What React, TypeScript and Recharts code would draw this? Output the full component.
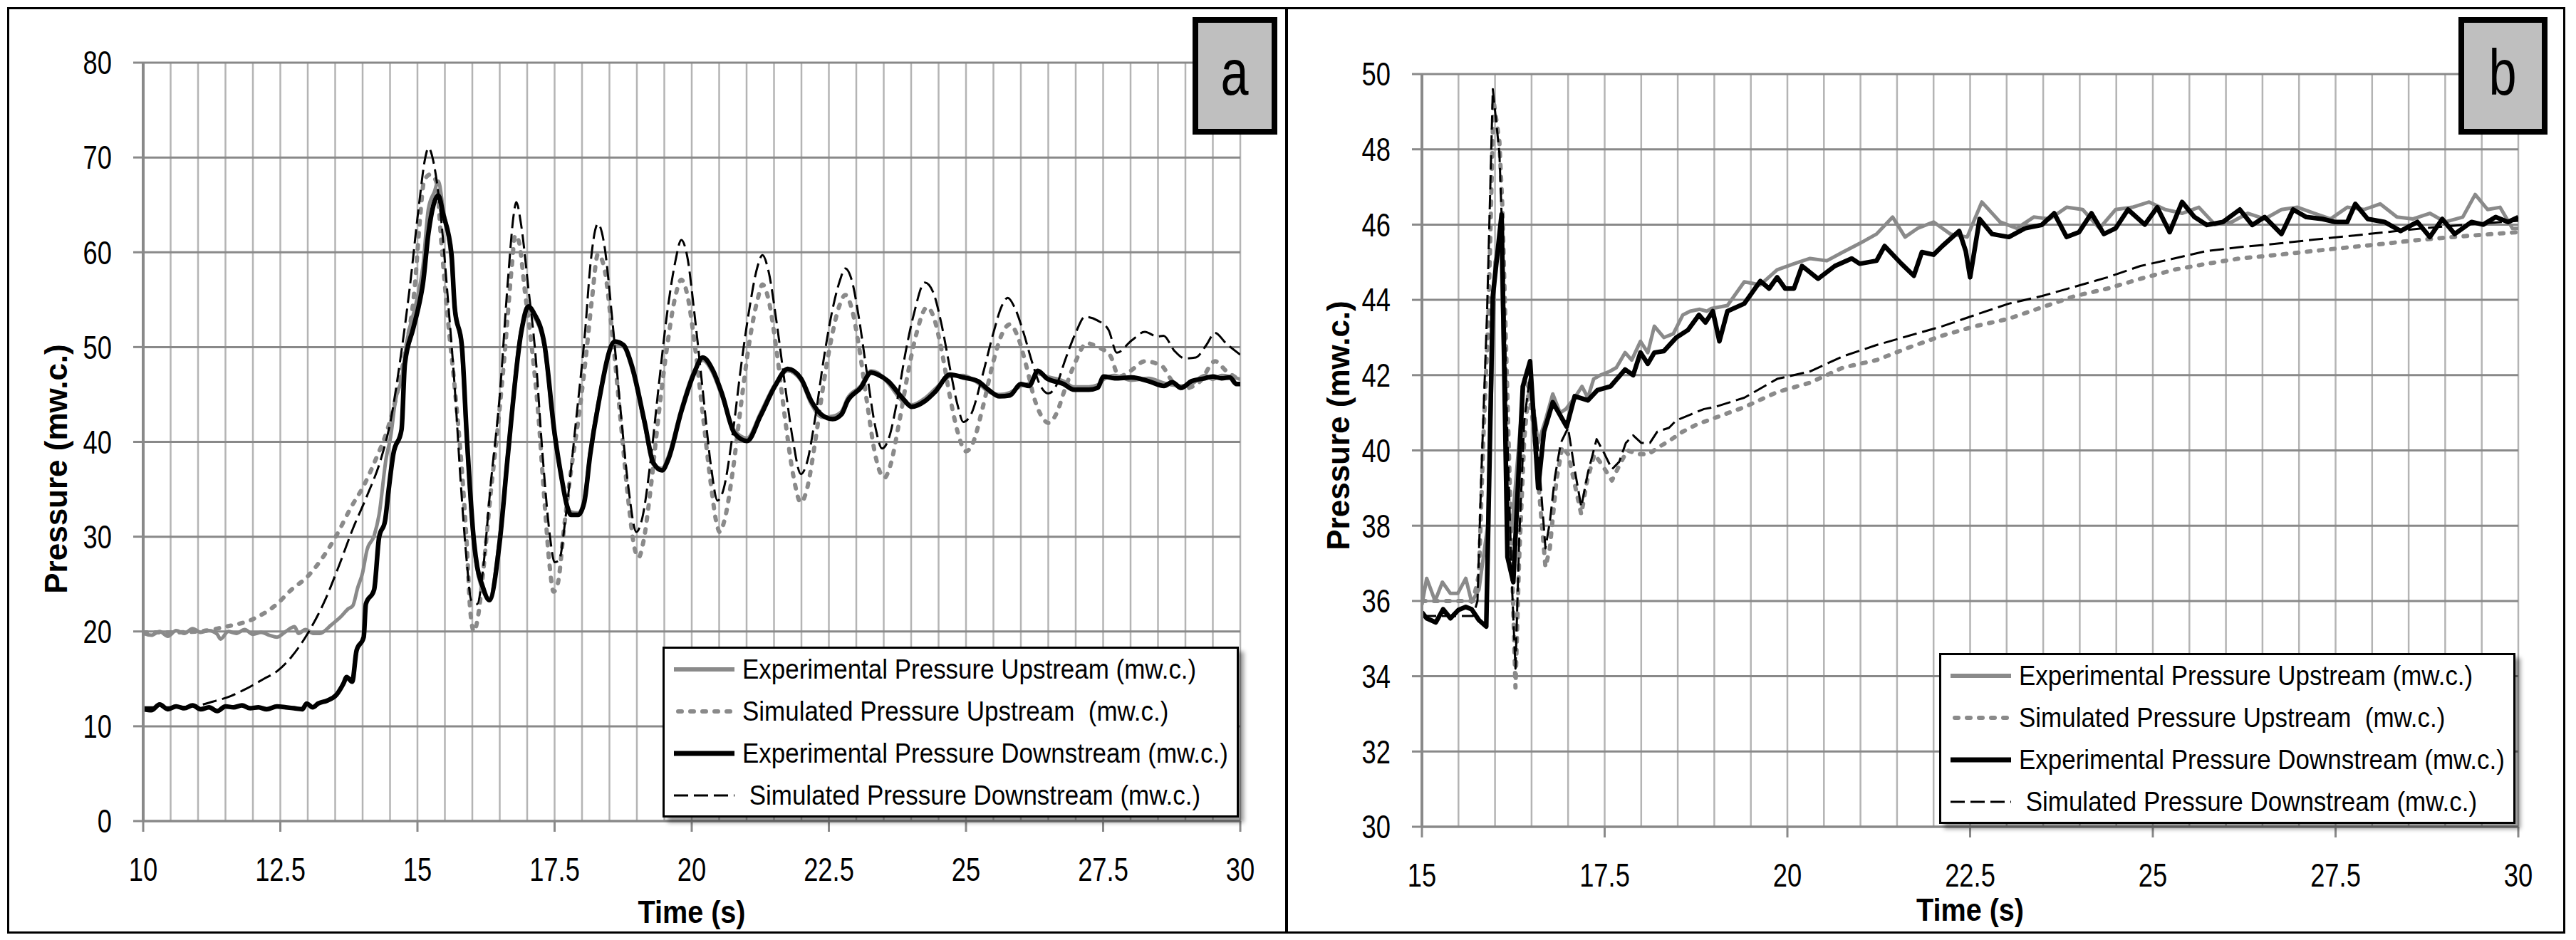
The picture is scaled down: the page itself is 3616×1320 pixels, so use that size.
import React from 'react';
import { LineChart, Line, XAxis, YAxis, CartesianGrid, Legend } from 'recharts';

type Pair = [number, number];
const toPts = (arr: Pair[]) => arr.map(([t, p]) => ({ t, p }));

// ---------- Panel a ----------
const A_X_TICKS = [10, 12.5, 15, 17.5, 20, 22.5, 25, 27.5, 30];
const A_GRID_TICKS = [10, 10.5, 11, 11.5, 12, 12.5, 13, 13.5, 14, 14.5, 15, 15.5, 16, 16.5, 17, 17.5, 18, 18.5, 19, 19.5, 20, 20.5, 21, 21.5, 22, 22.5, 23, 23.5, 24, 24.5, 25, 25.5, 26, 26.5, 27, 27.5, 28, 28.5, 29, 29.5, 30];
const A_Y_TICKS = [0, 10, 20, 30, 40, 50, 60, 70, 80];

const A_EXP_UP: Pair[] = [
  [10.0, 19.8], [10.15, 19.6], [10.3, 20.0], [10.45, 19.5], [10.6, 20.1], [10.75, 19.8], [10.9, 20.3], [11.05, 19.9],
  [11.2, 20.1], [11.35, 19.7], [11.41, 19.2], [11.55, 20.0], [11.7, 19.8], [11.85, 20.2], [12.0, 19.7], [12.15, 19.9],
  [12.3, 19.6], [12.44, 19.4], [12.6, 20.0], [12.76, 20.5], [12.83, 19.8], [12.96, 20.2], [13.1, 19.8], [13.22, 19.8],
  [13.43, 20.7], [13.61, 21.6], [13.74, 22.4], [13.82, 22.7], [13.91, 24.6], [14.0, 26.2], [14.08, 28.6], [14.21, 30.1],
  [14.3, 32.3], [14.43, 38.3], [14.51, 40.5], [14.6, 44.4], [14.71, 46.6], [14.82, 51.0], [14.97, 54.5], [15.1, 58.5],
  [15.2, 64.6], [15.31, 66.4], [15.38, 67.5], [15.47, 64.5], [15.62, 59.0], [15.68, 54.5], [15.81, 49.5], [15.9, 40.0],
  [16.03, 29.0], [16.09, 26.5], [16.18, 24.5], [16.31, 23.5], [16.5, 30.0], [16.65, 39.0], [16.89, 51.8], [17.02, 54.0],
  [17.12, 53.3], [17.32, 49.8], [17.5, 40.6], [17.63, 36.0], [17.72, 33.5], [17.8, 32.6], [17.93, 32.5], [18.04, 33.9],
  [18.15, 39.0], [18.29, 44.0], [18.6, 50.3], [18.76, 50.0], [18.91, 47.7], [19.14, 41.8], [19.3, 37.6], [19.46, 37.2],
  [19.57, 38.4], [19.81, 43.5], [20.04, 47.4], [20.2, 48.6], [20.39, 47.2], [20.55, 44.8], [20.78, 41.2], [21.01, 40.4],
  [21.25, 43.0], [21.52, 46.1], [21.75, 47.5], [21.99, 46.5], [22.18, 44.0], [22.38, 42.6], [22.57, 42.7], [22.73, 43.2],
  [22.84, 44.6], [23.08, 45.9], [23.27, 47.5], [23.39, 47.3], [23.58, 46.2], [23.86, 44.2], [24.01, 43.9], [24.25, 44.6],
  [24.44, 45.6], [24.71, 46.9], [24.95, 47.0], [25.22, 46.2], [25.41, 45.3], [25.61, 45.0], [25.8, 45.2], [26.0, 45.9],
  [26.15, 46.2], [26.31, 47.2], [26.47, 46.9], [26.78, 46.4], [26.97, 45.8], [27.24, 45.8], [27.4, 46.0], [27.51, 46.6],
  [27.71, 47.0], [28.02, 46.5], [28.33, 46.7], [28.61, 46.2], [28.76, 46.0], [28.92, 45.9], [29.11, 46.1], [29.35, 47.0],
  [29.5, 46.6], [29.66, 47.0], [29.81, 46.9], [30.0, 46.6],
];

const A_SIM_UP: Pair[] = [
  [10.0, 19.9], [10.5, 19.9], [11.0, 20.0], [11.5, 20.5], [12.0, 21.3], [12.44, 22.9], [12.7, 24.4], [12.98, 25.7],
  [13.26, 27.7], [13.52, 30.1], [13.78, 33.0], [14.04, 35.6], [14.25, 38.3], [14.43, 40.9], [14.6, 44.4], [14.77, 49.3],
  [14.95, 56.3], [15.05, 63.8], [15.12, 67.5], [15.23, 68.2], [15.34, 67.5], [15.44, 60.7], [15.55, 53.2], [15.68, 45.7],
  [15.81, 37.0], [15.9, 29.1], [15.96, 22.4], [16.03, 20.0], [16.11, 21.8], [16.2, 26.4], [16.33, 34.3], [16.46, 41.3],
  [16.59, 49.3], [16.72, 58.5], [16.78, 61.8], [16.85, 61.1], [16.96, 55.8], [17.09, 49.7], [17.2, 43.1], [17.32, 33.4],
  [17.41, 26.9], [17.48, 24.2], [17.56, 25.1], [17.67, 30.8], [17.8, 37.0], [17.93, 42.2], [18.06, 48.4], [18.18, 55.0],
  [18.29, 59.8], [18.4, 58.5], [18.55, 51.5], [18.7, 42.5], [18.85, 33.5], [18.95, 29.0], [19.03, 27.8], [19.12, 29.5],
  [19.25, 35.0], [19.4, 43.0], [19.55, 50.0], [19.7, 55.3], [19.81, 57.1], [19.92, 55.5], [20.05, 50.5], [20.2, 43.0],
  [20.35, 35.5], [20.45, 31.5], [20.51, 30.5], [20.6, 31.8], [20.75, 37.0], [20.9, 44.0], [21.05, 50.5], [21.2, 55.0],
  [21.29, 56.6], [21.4, 55.0], [21.55, 49.5], [21.7, 42.5], [21.85, 36.5], [21.99, 33.6], [22.1, 35.0], [22.25, 40.0],
  [22.4, 46.0], [22.55, 51.0], [22.7, 54.5], [22.8, 55.5], [22.92, 54.0], [23.05, 50.0], [23.2, 44.0], [23.35, 38.5],
  [23.51, 36.2], [23.62, 37.5], [23.78, 42.0], [23.95, 47.5], [24.1, 51.5], [24.29, 54.2], [24.42, 53.0], [24.56, 49.5],
  [24.7, 45.0], [24.85, 41.0], [25.0, 39.0], [25.12, 39.8], [25.3, 43.5], [25.5, 48.5], [25.65, 51.3], [25.8, 52.4],
  [25.95, 51.0], [26.1, 48.0], [26.25, 44.5], [26.4, 42.5], [26.5, 42.0], [26.65, 43.0], [26.8, 45.5], [27.0, 48.5],
  [27.2, 50.4], [27.4, 50.0], [27.63, 49.1], [27.79, 46.9], [28.0, 47.5], [28.26, 48.5], [28.57, 48.0], [28.76, 46.4],
  [28.96, 45.6], [29.27, 46.4], [29.54, 48.5], [29.74, 47.5], [30.0, 46.5],
];

const A_EXP_DOWN: Pair[] = [
  [10.0, 11.8], [10.15, 11.7], [10.3, 12.3], [10.45, 11.8], [10.6, 12.1], [10.75, 11.9], [10.9, 12.2], [11.05, 11.8],
  [11.2, 12.0], [11.35, 11.6], [11.5, 12.1], [11.65, 12.0], [11.8, 12.2], [11.95, 11.9], [12.1, 12.0], [12.25, 11.8],
  [12.44, 12.1], [12.6, 12.0], [12.75, 11.9], [12.9, 11.8], [12.98, 12.4], [13.09, 12.0], [13.19, 12.4], [13.35, 12.7],
  [13.52, 13.3], [13.65, 14.5], [13.71, 15.2], [13.81, 14.7], [13.89, 18.0], [14.02, 19.4], [14.06, 22.9], [14.21, 24.4],
  [14.3, 29.9], [14.41, 31.7], [14.47, 34.7], [14.56, 38.7], [14.71, 41.3], [14.77, 48.2], [14.92, 51.9], [15.03, 54.5],
  [15.1, 56.7], [15.2, 62.0], [15.38, 66.0], [15.47, 64.0], [15.62, 59.8], [15.68, 54.1], [15.81, 50.1], [15.9, 40.5],
  [16.03, 29.5], [16.09, 26.8], [16.18, 24.9], [16.31, 23.3], [16.5, 29.5], [16.65, 38.7], [16.89, 51.5], [17.02, 54.3],
  [17.12, 53.6], [17.32, 50.1], [17.5, 40.9], [17.63, 36.1], [17.72, 33.4], [17.8, 32.3], [17.93, 32.3], [18.04, 33.6],
  [18.15, 38.7], [18.29, 43.7], [18.6, 50.6], [18.76, 50.2], [18.91, 48.0], [19.14, 42.1], [19.3, 37.8], [19.46, 37.0],
  [19.57, 38.1], [19.81, 43.2], [20.04, 47.2], [20.2, 48.9], [20.39, 47.5], [20.55, 45.1], [20.78, 40.9], [21.01, 40.1],
  [21.25, 42.7], [21.52, 45.9], [21.75, 47.7], [21.99, 46.7], [22.18, 44.3], [22.38, 42.8], [22.57, 42.4], [22.73, 42.9],
  [22.84, 44.3], [23.08, 45.7], [23.27, 47.3], [23.39, 47.1], [23.58, 46.4], [23.86, 44.5], [24.01, 43.7], [24.25, 44.3],
  [24.44, 45.3], [24.71, 47.1], [24.95, 46.8], [25.22, 46.4], [25.41, 45.5], [25.61, 44.8], [25.8, 44.9], [26.0, 46.1],
  [26.15, 45.9], [26.31, 47.5], [26.47, 46.7], [26.78, 46.1], [26.97, 45.5], [27.24, 45.5], [27.4, 45.7], [27.51, 46.9],
  [27.71, 46.7], [28.02, 46.8], [28.33, 46.4], [28.61, 45.9], [28.76, 46.3], [28.92, 45.7], [29.11, 46.4], [29.35, 46.7],
  [29.5, 46.9], [29.66, 46.7], [29.81, 46.8], [29.93, 46.1], [30.0, 46.1],
];

const A_SIM_DOWN: Pair[] = [
  [10.0, 12.0], [10.5, 12.0], [11.0, 12.2], [11.27, 12.6], [11.6, 13.2], [11.86, 13.9], [12.2, 15.0], [12.44, 15.8],
  [12.7, 17.3], [13.0, 19.8], [13.3, 23.1], [13.56, 26.8], [13.82, 30.8], [14.08, 34.3], [14.34, 38.3], [14.51, 42.2],
  [14.68, 48.4], [14.86, 56.3], [15.03, 65.1], [15.14, 69.9], [15.2, 71.0], [15.31, 69.0], [15.42, 64.2], [15.55, 55.4],
  [15.68, 45.7], [15.79, 35.6], [15.9, 27.3], [15.98, 23.3], [16.09, 22.9], [16.2, 26.8], [16.33, 35.2], [16.5, 44.9],
  [16.65, 57.1], [16.76, 64.2], [16.8, 65.3], [16.89, 62.9], [17.02, 56.3], [17.15, 49.3], [17.28, 38.7], [17.41, 30.3],
  [17.5, 27.3], [17.58, 27.5], [17.71, 32.5], [17.89, 42.2], [18.06, 51.9], [18.15, 58.5], [18.29, 63.0], [18.4, 61.0],
  [18.55, 53.0], [18.7, 43.5], [18.85, 35.0], [18.99, 30.5], [19.1, 32.0], [19.25, 38.0], [19.4, 46.0], [19.55, 53.5],
  [19.7, 59.0], [19.81, 61.3], [19.92, 59.5], [20.05, 53.5], [20.2, 45.5], [20.35, 37.5], [20.47, 33.8], [20.58, 35.0],
  [20.75, 41.0], [20.9, 48.0], [21.05, 54.0], [21.2, 58.5], [21.29, 59.7], [21.4, 58.0], [21.55, 52.5], [21.7, 46.0],
  [21.85, 40.0], [21.99, 36.6], [22.1, 37.8], [22.25, 42.5], [22.4, 48.5], [22.55, 53.5], [22.7, 57.0], [22.8, 58.3],
  [22.92, 57.0], [23.05, 53.0], [23.2, 47.0], [23.35, 41.5], [23.47, 39.3], [23.6, 40.5], [23.75, 44.5], [23.9, 49.5],
  [24.05, 53.5], [24.25, 56.8], [24.4, 55.8], [24.55, 52.5], [24.7, 48.0], [24.85, 43.8], [24.95, 42.1], [25.1, 43.0],
  [25.3, 47.0], [25.5, 51.5], [25.65, 54.3], [25.76, 55.2], [25.9, 54.0], [26.05, 51.5], [26.2, 48.5], [26.35, 46.0],
  [26.5, 45.1], [26.65, 46.0], [26.8, 48.5], [27.0, 51.5], [27.17, 53.2], [27.4, 52.8], [27.6, 51.8], [27.75, 49.4],
  [28.02, 50.7], [28.26, 51.6], [28.49, 51.1], [28.6, 51.2], [28.8, 49.6], [28.99, 48.8], [29.19, 48.9], [29.38, 50.2],
  [29.54, 51.5], [29.74, 50.4], [30.0, 49.2],
];

// ---------- Panel b ----------
const B_X_TICKS = [15, 17.5, 20, 22.5, 25, 27.5, 30];
const B_GRID_TICKS = [15, 15.5, 16, 16.5, 17, 17.5, 18, 18.5, 19, 19.5, 20, 20.5, 21, 21.5, 22, 22.5, 23, 23.5, 24, 24.5, 25, 25.5, 26, 26.5, 27, 27.5, 28, 28.5, 29, 29.5, 30];
const B_Y_TICKS = [30, 32, 34, 36, 38, 40, 42, 44, 46, 48, 50];

const B_EXP_UP: Pair[] = [
  [15.0, 35.9], [15.065, 36.6], [15.18, 36.0], [15.28, 36.5], [15.39, 36.2], [15.49, 36.2], [15.6, 36.6], [15.68, 35.97],
  [15.78, 36.3], [15.9, 38.0], [16.0, 45.0], [16.08, 45.6], [16.17, 38.5], [16.23, 37.9], [16.4, 41.9], [16.5, 41.5],
  [16.59, 40.2], [16.69, 40.8], [16.79, 41.5], [16.89, 41.0], [16.97, 41.1], [17.09, 41.4], [17.19, 41.7], [17.27, 41.4],
  [17.35, 41.9], [17.44, 42.0], [17.57, 42.1], [17.66, 42.2], [17.78, 42.6], [17.87, 42.4], [17.99, 42.9], [18.09, 42.6],
  [18.18, 43.3], [18.31, 43.0], [18.44, 43.1], [18.57, 43.6], [18.67, 43.7], [18.8, 43.75], [18.9, 43.7], [18.96, 43.77],
  [19.18, 43.85], [19.41, 44.48], [19.63, 44.4], [19.86, 44.8], [20.09, 44.96], [20.31, 45.1], [20.54, 45.04], [20.76, 45.27],
  [20.99, 45.5], [21.22, 45.75], [21.44, 46.2], [21.61, 45.67], [21.78, 45.9], [22.0, 46.07], [22.23, 45.75], [22.46, 45.67],
  [22.66, 46.6], [22.91, 46.07], [23.14, 45.9], [23.37, 46.2], [23.59, 46.15], [23.82, 46.46], [24.04, 46.4], [24.27, 45.9],
  [24.49, 46.4], [24.72, 46.46], [24.95, 46.6], [25.17, 46.4], [25.4, 46.3], [25.63, 46.46], [25.85, 46.0], [26.08, 46.07],
  [26.3, 46.3], [26.53, 46.15], [26.76, 46.4], [26.98, 46.46], [27.21, 46.3], [27.43, 46.15], [27.66, 46.46], [27.89, 46.4],
  [28.11, 46.55], [28.34, 46.2], [28.56, 46.15], [28.79, 46.3], [29.0, 46.07], [29.24, 46.2], [29.41, 46.8], [29.58, 46.4],
  [29.75, 46.46], [29.92, 45.9], [30.0, 45.9],
];

const B_SIM_UP: Pair[] = [
  [15.0, 36.0], [15.4, 36.0], [15.7, 36.0], [15.78, 36.7], [15.84, 40.3], [15.91, 43.6], [15.98, 49.3], [16.06, 48.2],
  [16.1, 46.5], [16.17, 41.4], [16.23, 37.1], [16.28, 33.7], [16.33, 37.1], [16.4, 40.3], [16.46, 41.6], [16.53, 40.6],
  [16.59, 39.2], [16.66, 37.6], [16.69, 36.9], [16.75, 37.4], [16.84, 39.2], [16.92, 40.1], [17.0, 39.9], [17.08, 39.2],
  [17.18, 38.3], [17.26, 39.2], [17.36, 39.9], [17.47, 39.6], [17.6, 39.2], [17.7, 39.6], [17.81, 40.0], [17.96, 39.9],
  [18.1, 39.9], [18.25, 40.1], [18.38, 40.25], [18.57, 40.5], [18.77, 40.7], [18.96, 40.83], [19.41, 41.15], [19.86, 41.55],
  [20.31, 41.8], [20.76, 42.2], [21.22, 42.4], [21.67, 42.74], [22.12, 43.05], [22.57, 43.3], [23.03, 43.5], [23.48, 43.8],
  [23.93, 44.1], [24.38, 44.3], [24.83, 44.56], [25.29, 44.8], [25.74, 44.96], [26.19, 45.1], [26.73, 45.2], [27.2, 45.3],
  [27.7, 45.4], [28.2, 45.5], [28.68, 45.6], [29.3, 45.7], [30.0, 45.8],
];

const B_EXP_DOWN: Pair[] = [
  [15.0, 35.7], [15.065, 35.54], [15.19, 35.43], [15.29, 35.78], [15.39, 35.54], [15.5, 35.76], [15.6, 35.84], [15.68, 35.78],
  [15.78, 35.49], [15.88, 35.32], [15.97, 44.1], [16.09, 46.27], [16.17, 37.17], [16.25, 36.5], [16.38, 41.7], [16.48, 42.37],
  [16.59, 39.0], [16.67, 40.5], [16.79, 41.28], [16.98, 40.63], [17.09, 41.44], [17.27, 41.33], [17.4, 41.6], [17.58, 41.7],
  [17.78, 42.15], [17.89, 42.0], [17.99, 42.6], [18.09, 42.3], [18.18, 42.6], [18.31, 42.64], [18.48, 43.0], [18.64, 43.2],
  [18.79, 43.6], [18.88, 43.4], [18.98, 43.7], [19.07, 42.9], [19.18, 43.7], [19.41, 43.9], [19.63, 44.5], [19.75, 44.3],
  [19.86, 44.6], [19.97, 44.3], [20.09, 44.3], [20.2, 44.9], [20.42, 44.56], [20.65, 44.9], [20.88, 45.1], [20.99, 44.96],
  [21.22, 45.04], [21.33, 45.43], [21.56, 44.96], [21.73, 44.64], [21.84, 45.27], [22.0, 45.2], [22.12, 45.43], [22.35, 45.83],
  [22.44, 45.3], [22.5, 44.6], [22.63, 46.15], [22.8, 45.75], [23.03, 45.67], [23.25, 45.9], [23.48, 45.99], [23.65, 46.3],
  [23.82, 45.67], [23.99, 45.8], [24.16, 46.3], [24.33, 45.75], [24.49, 45.9], [24.66, 46.4], [24.89, 46.0], [25.06, 46.46],
  [25.23, 45.8], [25.4, 46.6], [25.57, 46.2], [25.74, 45.99], [25.96, 46.07], [26.19, 46.4], [26.36, 45.99], [26.53, 46.2],
  [26.76, 45.75], [26.92, 46.4], [27.1, 46.2], [27.32, 46.15], [27.49, 46.07], [27.66, 46.07], [27.77, 46.55], [27.94, 46.15],
  [28.17, 46.07], [28.39, 45.83], [28.62, 46.07], [28.79, 45.67], [28.96, 46.15], [29.13, 45.75], [29.36, 46.07], [29.52, 46.0],
  [29.69, 46.2], [29.86, 46.07], [30.0, 46.2],
];

const B_SIM_DOWN: Pair[] = [
  [15.0, 35.6], [15.7, 35.6], [15.76, 36.0], [15.81, 39.2], [15.89, 43.6], [15.97, 49.6], [16.06, 47.9], [16.12, 44.6],
  [16.17, 40.3], [16.23, 36.5], [16.28, 34.2], [16.33, 37.6], [16.4, 40.8], [16.48, 42.0], [16.56, 40.7], [16.62, 39.2],
  [16.69, 37.4], [16.75, 38.1], [16.82, 39.3], [16.9, 40.2], [17.0, 40.6], [17.08, 39.6], [17.18, 38.5], [17.27, 39.4],
  [17.39, 40.3], [17.5, 39.9], [17.6, 39.5], [17.7, 39.7], [17.79, 40.2], [17.89, 40.4], [18.0, 40.2], [18.12, 40.2],
  [18.22, 40.5], [18.38, 40.6], [18.48, 40.8], [18.67, 40.95], [18.86, 41.1], [19.0, 41.15], [19.41, 41.4], [19.86, 41.9],
  [20.31, 42.1], [20.76, 42.5], [21.22, 42.8], [21.67, 43.05], [22.12, 43.3], [22.57, 43.6], [23.03, 43.9], [23.48, 44.1],
  [23.93, 44.35], [24.38, 44.6], [24.83, 44.9], [25.29, 45.1], [25.74, 45.3], [26.19, 45.4], [26.73, 45.5], [27.2, 45.6],
  [27.7, 45.7], [28.2, 45.8], [28.68, 45.9], [29.3, 46.0], [30.0, 46.1],
];

const SERIES_NAMES = [
  'Experimental Pressure Upstream (mw.c.)',
  'Simulated Pressure Upstream  (mw.c.)',
  'Experimental Pressure Downstream (mw.c.)',
  ' Simulated Pressure Downstream (mw.c.)',
];

// ---------- styles ----------
const FONT = "'Liberation Sans', Arial, sans-serif";
const STYLES = [
  { stroke: '#8a8a8a', strokeWidth: 5, dash: undefined as string | undefined, cap: 'butt' as const },
  { stroke: '#8a8a8a', strokeWidth: 6, dash: '5 12', cap: 'round' as const },
  { stroke: '#000000', strokeWidth: 6.5, dash: undefined as string | undefined, cap: 'butt' as const },
  { stroke: '#000000', strokeWidth: 3, dash: '20 8', cap: 'butt' as const },
];

const LegendBox = () => (
  <div
    style={{
      width: '100%', height: '100%', boxSizing: 'border-box', background: '#fff',
      border: '3px solid #000', boxShadow: '7px 7px 6px rgba(0,0,0,0.4)', position: 'relative', overflow: 'visible',
    }}
  >
    {SERIES_NAMES.map((name, i) => {
      const s = STYLES[i];
      return (
        <div
          key={i}
          style={{ position: 'absolute', left: 13, top: 29 + i * 59 - 30, height: 60, display: 'flex', alignItems: 'center' }}
        >
          <svg width={90} height={20} style={{ display: 'block', flex: 'none' }}>
            <line
              x1={i === 1 ? 6 : 0} y1={10} x2={i === 1 ? 84 : 85} y2={10}
              stroke={s.stroke} strokeWidth={i === 2 ? 7 : i === 0 ? 6 : s.strokeWidth}
              strokeDasharray={s.dash} strokeLinecap={s.cap}
            />
          </svg>
          <span
            style={{
              marginLeft: 6, fontFamily: FONT, fontSize: 38, color: '#000', whiteSpace: 'pre', lineHeight: '60px',
              display: 'inline-block', transform: 'scaleX(0.92)', transformOrigin: 'left center',
            }}
          >
            {name}
          </span>
        </div>
      );
    })}
  </div>
);

const TickX = (props: any) => {
  const { x, y, payload } = props;
  return (
    <g transform={`translate(${x},${y})`}>
      <text transform="scale(0.79,1)" textAnchor="middle" dy="0.71em" fontFamily={FONT} fontSize={46} fill="#000">
        {payload.value}
      </text>
    </g>
  );
};

const TickY = (props: any) => {
  const { x, y, payload } = props;
  return (
    <g transform={`translate(${x},${y})`}>
      <text transform="scale(0.79,1)" textAnchor="end" dy="0.355em" fontFamily={FONT} fontSize={46} fill="#000">
        {payload.value}
      </text>
    </g>
  );
};

const YTitle = (dx: number, dy: number) => (props: any) => {
  const vb = props.viewBox || {};
  const cx = (vb.x || 0) + dx;
  const cy = (vb.y || 0) + (vb.height || 0) / 2 + dy;
  return (
    <text
      x={cx} y={cy} transform={`rotate(-90 ${cx} ${cy})`} textAnchor="middle" dominantBaseline="central"
      fontFamily={FONT} fontWeight="bold" fontSize={44} fill="#000"
    >
      Pressure (mw.c.)
    </text>
  );
};

const XTitle = (dy: number) => (props: any) => {
  const vb = props.viewBox || {};
  const cx = (vb.x || 0) + (vb.width || 0) / 2;
  const cy = (vb.y || 0) + dy;
  return (
    <g transform={`translate(${cx},${cy})`}>
      <text transform="scale(0.88,1)" textAnchor="middle" dominantBaseline="central" fontFamily={FONT} fontWeight="bold" fontSize={45} fill="#000">
        Time (s)
      </text>
    </g>
  );
};

interface PanelProps {
  width: number;
  height: number;
  margin: { top: number; right: number; left: number; bottom: number };
  yWidth: number;
  xHeight: number;
  xDomain: [number, number];
  yDomain: [number, number];
  xTicks: number[];
  gridTicks: number[];
  yTicks: number[];
  series: Pair[][];
  curve: 'monotone' | 'linear';
  legendPos: { left: number; top: number };
  yTitle: { dx: number; dy: number };
  xTitleDy: number;
}

const Panel = (p: PanelProps) => (
  <LineChart width={p.width} height={p.height} margin={p.margin}>
    <XAxis xAxisId="grid" type="number" dataKey="t" domain={p.xDomain} ticks={p.gridTicks} hide allowDataOverflow />
    <CartesianGrid xAxisId="grid" horizontal={false} vertical stroke="#b4b4b4" strokeWidth={2.5} />
    <CartesianGrid horizontal vertical={false} stroke="#898989" strokeWidth={3} />
    <XAxis
      type="number" dataKey="t" domain={p.xDomain} ticks={p.xTicks} interval={0} allowDataOverflow
      height={p.xHeight} tickSize={15} tickMargin={36}
      axisLine={{ stroke: '#898989', strokeWidth: 3 }} tickLine={{ stroke: '#898989', strokeWidth: 3 }}
      tick={<TickX />}
      label={{ content: XTitle(p.xTitleDy) } as any}
    />
    <YAxis
      type="number" domain={p.yDomain} ticks={p.yTicks} interval={0} allowDataOverflow width={p.yWidth}
      tickSize={14} tickMargin={30}
      axisLine={{ stroke: '#898989', strokeWidth: 4 }} tickLine={{ stroke: '#898989', strokeWidth: 3 }}
      tick={<TickY />}
      label={{ content: YTitle(p.yTitle.dx, p.yTitle.dy) } as any}
    />
    {p.series.map((arr, i) => (
      <Line
        key={i}
        data={toPts(arr)}
        dataKey="p"
        name={SERIES_NAMES[i]}
        type={p.curve}
        stroke={STYLES[i].stroke}
        strokeWidth={STYLES[i].strokeWidth}
        strokeDasharray={STYLES[i].dash}
        strokeLinecap={STYLES[i].cap}
        strokeLinejoin="round"
        dot={false}
        activeDot={false}
        isAnimationActive={false}
      />
    ))}
    <Legend
      layout="vertical" align="center" verticalAlign="middle"
      wrapperStyle={{ position: 'absolute', left: p.legendPos.left, top: p.legendPos.top, width: 809, height: 240 }}
      content={() => <LegendBox />}
    />
  </LineChart>
);

const TagBox = ({ left, width, text }: { left: number; width: number; text: string }) => (
  <div
    style={{
      position: 'absolute', left, top: 24, width, height: 165, boxSizing: 'border-box',
      border: '8px solid #000', background: '#bfbfbf', display: 'flex', alignItems: 'center', justifyContent: 'center',
      fontFamily: FONT, fontSize: 90, lineHeight: '90px', color: '#000', paddingBottom: 10,
    }}
  >
    <span style={{ display: 'inline-block', transform: 'scaleX(0.78)' }}>{text}</span>
  </div>
);

export default function App() {
  return (
    <div style={{ position: 'absolute', left: 0, top: 0, width: 3616, height: 1320, background: '#fff', overflow: 'hidden' }}>
      <div style={{ position: 'absolute', left: 0, top: 0 }}>
        <Panel
          width={1806} height={1320}
          margin={{ top: 88, right: 65, left: 0, bottom: 0 }}
          yWidth={201} xHeight={167}
          xDomain={[10, 30]} yDomain={[0, 80]}
          xTicks={A_X_TICKS} gridTicks={A_GRID_TICKS} yTicks={A_Y_TICKS}
          series={[A_EXP_UP, A_SIM_UP, A_EXP_DOWN, A_SIM_DOWN]}
          curve="monotone"
          legendPos={{ left: 930, top: 908 }}
          yTitle={{ dx: 78, dy: 38 }}
          xTitleDy={128}
        />
      </div>
      <div style={{ position: 'absolute', left: 1806, top: 0 }}>
        <Panel
          width={1810} height={1320}
          margin={{ top: 104, right: 81, left: 0, bottom: 0 }}
          yWidth={190} xHeight={159}
          xDomain={[15, 30]} yDomain={[30, 50]}
          xTicks={B_X_TICKS} gridTicks={B_GRID_TICKS} yTicks={B_Y_TICKS}
          series={[B_EXP_UP, B_SIM_UP, B_EXP_DOWN, B_SIM_DOWN]}
          curve="linear"
          legendPos={{ left: 916, top: 917 }}
          yTitle={{ dx: 72, dy: -35 }}
          xTitleDy={117}
        />
      </div>
      <TagBox left={1674} width={119} text="a" />
      <TagBox left={3451} width={125} text="b" />
      <div style={{ position: 'absolute', left: 10, top: 10, width: 3591, height: 1301, boxSizing: 'border-box', border: '3px solid #000', pointerEvents: 'none' }} />
      <div style={{ position: 'absolute', left: 1804, top: 10, width: 4, height: 1301, background: '#000', pointerEvents: 'none' }} />
    </div>
  );
}
